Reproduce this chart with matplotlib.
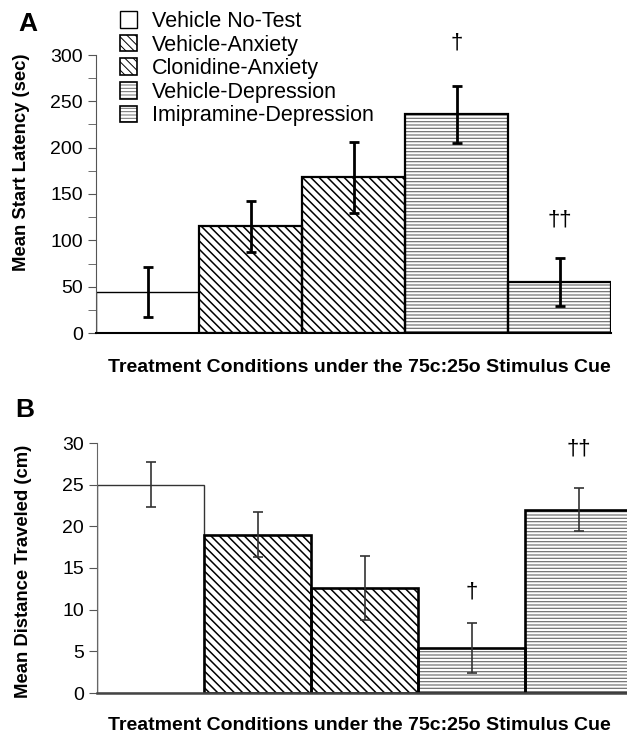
import numpy as np
import matplotlib
matplotlib.use("Agg")
import matplotlib.pyplot as plt
from matplotlib.patches import Patch
from matplotlib.legend_handler import HandlerTuple
from matplotlib.ticker import MultipleLocator

# ---------------- data ----------------
conditions = ["Vehicle No-Test", "Vehicle-Anxiety", "Clonidine-Anxiety",
              "Vehicle-Depression", "Imipramine-Depression"]
latency_mean = [44, 115, 168, 236, 55]
latency_err = [27, 27.5, 38.5, 30.5, 26]
latency_marks = ["", "", "", "\u2020", "\u2020\u2020"]
latency_mark_y = [0, 0, 0, 313, 122]

distance_mean = [25.0, 19.0, 12.6, 5.4, 22.0]
distance_err = [2.7, 2.7, 3.85, 3.05, 2.6]
distance_marks = ["", "", "", "\u2020", "\u2020\u2020"]
distance_mark_y = [0, 0, 0, 12.1, 29.3]

xlabel_text = "Treatment Conditions under the 75c:25o Stimulus Cue"
ylabel_a = "Mean Start Latency (sec)"
ylabel_b = "Mean Distance Traveled (cm)"

# ---------------- style ----------------
plt.rcParams["font.family"] = ["Liberation Sans", "DejaVu Sans"]
hatches = [None, "\\\\\\\\", "\\\\\\\\", "-----", "-----"]
hatch_colors = ["black", "black", "black", "#6e6e6e", "#6e6e6e"]
hatch_lws = [1.0, 1.1, 1.1, 0.85, 0.85]

W, H = 627, 735
fig = plt.figure(figsize=(W / 100, H / 100), dpi=100)


def fx(px):
    return px / W


def fy(py):
    return 1 - py / H


ax_a = fig.add_axes([fx(96), fy(333), fx(611) - fx(96), fy(55) - fy(333)])
ax_b = fig.add_axes([fx(97), fy(693), fx(627) - fx(97), fy(443) - fy(693)])


def draw_panel(ax, means, errs, edge_lw, bar1_color, bar1_lw, err_lw, err_color, capsize):
    x = np.arange(len(means))
    for i, m in enumerate(means):
        if hatches[i]:
            plt.rcParams["hatch.linewidth"] = hatch_lws[i]
            ax.bar(x[i], m, width=1, align="edge", color="white",
                   edgecolor=hatch_colors[i], hatch=hatches[i], linewidth=0, zorder=2)
            ax.bar(x[i], m, width=1, align="edge", fill=False,
                   edgecolor="black", linewidth=edge_lw, zorder=3)
        else:
            ax.bar(x[i], m, width=1, align="edge", color="white",
                   edgecolor=bar1_color, linewidth=bar1_lw, zorder=2)
    ax.errorbar(x + 0.5, means, yerr=errs, fmt="none", ecolor=err_color,
                elinewidth=err_lw, capsize=capsize, capthick=err_lw, zorder=5)
    for s in ["top", "right"]:
        ax.spines[s].set_visible(False)
    ax.set_xticks([])
    ax.tick_params(axis="y", which="both", direction="out", length=5.5,
                   labelsize=14, pad=4, color="#555555")


# Panel A
draw_panel(ax_a, latency_mean, latency_err, edge_lw=1.6, bar1_color="black",
           bar1_lw=1.0, err_lw=2.0, err_color="black", capsize=3.3)
ax_a.set_xlim(0, len(latency_mean))
ax_a.set_ylim(0, 300)
ax_a.yaxis.set_major_locator(MultipleLocator(50))
ax_a.yaxis.set_minor_locator(MultipleLocator(25))
ax_a.spines["left"].set_color("#555555")
ax_a.spines["bottom"].set_color("black")
ax_a.spines["bottom"].set_linewidth(1.5)
ax_a.spines["bottom"].set_zorder(6)
for i, (t, yv) in enumerate(zip(latency_marks, latency_mark_y)):
    if t:
        ax_a.text(i + 0.5, yv, t, ha="center", va="center", fontsize=16, clip_on=False)

# Panel B
draw_panel(ax_b, distance_mean, distance_err, edge_lw=1.9, bar1_color="#333333",
           bar1_lw=1.0, err_lw=1.2, err_color="#333333", capsize=3.3)
ax_b.set_xlim(0, (627 - 97) / 107)
ax_b.set_ylim(0, 30)
ax_b.yaxis.set_major_locator(MultipleLocator(5))
ax_b.spines["left"].set_color("#666666")
ax_b.spines["bottom"].set_color("#444444")
ax_b.spines["bottom"].set_linewidth(1.8)
ax_b.spines["bottom"].set_zorder(6)
for i, (t, yv) in enumerate(zip(distance_marks, distance_mark_y)):
    if t:
        ax_b.text(i + 0.5, yv, t, ha="center", va="center", fontsize=16, clip_on=False)

# Labels
fig.text(fx(22), fy(162), ylabel_a, rotation=90, ha="center", va="center",
         fontsize=13.3, fontweight="bold")
fig.text(fx(24), fy(571), ylabel_b, rotation=90, ha="center", va="center",
         fontsize=13.3, fontweight="bold")
fig.text(fx(359), fy(372), xlabel_text, ha="center", va="baseline",
         fontsize=14, fontweight="bold")
fig.text(fx(359), fy(730), xlabel_text, ha="center", va="baseline",
         fontsize=14, fontweight="bold")
fig.text(fx(28), fy(24), "A", ha="center", va="center", fontsize=19, fontweight="bold")
fig.text(fx(25), fy(410), "B", ha="center", va="center", fontsize=19, fontweight="bold")

# Legend
handles = []
for i in range(len(conditions)):
    plt.rcParams["hatch.linewidth"] = 0.7
    if hatches[i]:
        h = (Patch(facecolor="white", edgecolor=hatch_colors[i], hatch=hatches[i], linewidth=0),
             Patch(fill=False, edgecolor="black", linewidth=1.2))
    else:
        h = Patch(facecolor="white", edgecolor="black", linewidth=1.0)
    handles.append(h)
fig.legend(handles, conditions, loc="upper left", bbox_to_anchor=(fx(120), fy(11)),
           frameon=False, fontsize=15.5, handlelength=0.8, handleheight=0.8,
           handletextpad=0.7, labelspacing=0.12, borderpad=0, borderaxespad=0,
           handler_map={tuple: HandlerTuple(ndivide=1, pad=0)})

fig.savefig("out.png", dpi=100)
